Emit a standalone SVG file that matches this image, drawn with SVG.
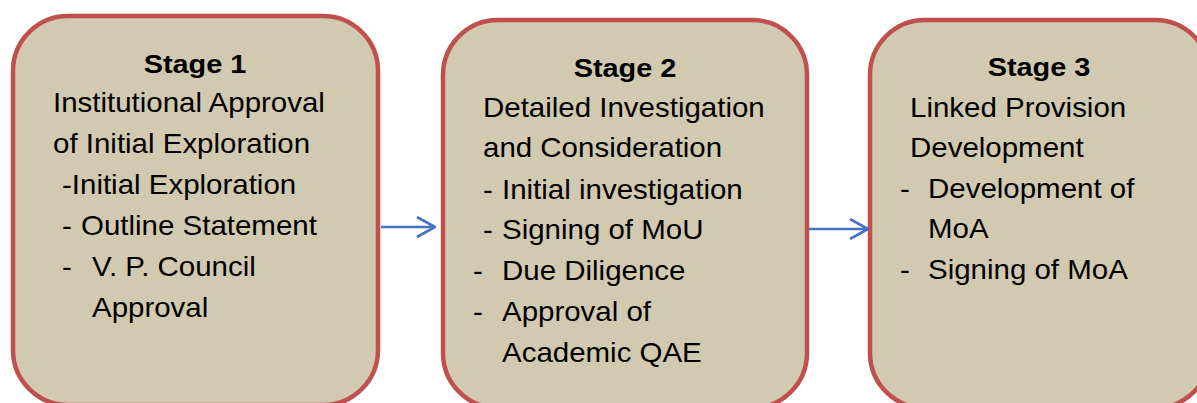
<svg xmlns="http://www.w3.org/2000/svg" width="1197" height="403" viewBox="0 0 1197 403">
<defs>
<style>
.box{fill:#D2C9B1;stroke:#C0504D;stroke-width:4.5}
.t{font-family:"Liberation Sans",Arial,sans-serif;font-size:26.8px;fill:#000}
.h{font-family:"Liberation Sans",Arial,sans-serif;font-size:26.5px;font-weight:bold;fill:#000;text-anchor:middle}
.conn{stroke:#4472C4;stroke-width:2.4;fill:none}
</style>
<marker id="arr" markerUnits="userSpaceOnUse" viewBox="0 0 20 22" refX="19" refY="11" markerWidth="20" markerHeight="22" orient="auto">
<path d="M1,1 L19,11 L1,21" fill="none" stroke="#4472C4" stroke-width="2.6"/>
</marker>
</defs>
<rect width="1197" height="403" fill="#FFFFFF"/>
<g id="stage1">
<rect class="box" x="13" y="16" width="365" height="389" rx="55" ry="55"/>
<text class="h" transform="translate(195,73) scale(1.09 1)">Stage 1</text>
<text class="t" transform="translate(53,112) scale(1.1 1)">Institutional Approval</text>
<text class="t" transform="translate(53,153) scale(1.1 1)">of Initial Exploration</text>
<text class="t" transform="translate(62,194) scale(1.1 1)">-Initial Exploration</text>
<text class="t" transform="translate(62,235) scale(1.1 1)">-</text>
<text class="t" transform="translate(81,235) scale(1.1 1)">Outline Statement</text>
<text class="t" transform="translate(62,276) scale(1.1 1)">-</text>
<text class="t" transform="translate(92,276) scale(1.1 1)">V. P. Council</text>
<text class="t" transform="translate(92,317) scale(1.1 1)">Approval</text>
</g>
<g id="stage2">
<rect class="box" x="443" y="20" width="364" height="388" rx="55" ry="55"/>
<text class="h" transform="translate(625,77) scale(1.09 1)">Stage 2</text>
<text class="t" transform="translate(483,117) scale(1.1 1)">Detailed Investigation</text>
<text class="t" transform="translate(483,157) scale(1.1 1)">and Consideration</text>
<text class="t" transform="translate(483,199) scale(1.1 1)">-</text>
<text class="t" transform="translate(502,199) scale(1.1 1)">Initial investigation</text>
<text class="t" transform="translate(483,239) scale(1.1 1)">-</text>
<text class="t" transform="translate(502,239) scale(1.1 1)">Signing of MoU</text>
<text class="t" transform="translate(473,280) scale(1.1 1)">-</text>
<text class="t" transform="translate(502,280) scale(1.1 1)">Due Diligence</text>
<text class="t" transform="translate(473,321) scale(1.1 1)">-</text>
<text class="t" transform="translate(502,321) scale(1.1 1)">Approval of</text>
<text class="t" transform="translate(502,362) scale(1.1 1)">Academic QAE</text>
</g>
<g id="stage3">
<rect class="box" x="870" y="20" width="340" height="388" rx="55" ry="55"/>
<text class="h" transform="translate(1039,76) scale(1.09 1)">Stage 3</text>
<text class="t" transform="translate(910,117) scale(1.1 1)">Linked Provision</text>
<text class="t" transform="translate(910,157) scale(1.1 1)">Development</text>
<text class="t" transform="translate(900,198) scale(1.1 1)">-</text>
<text class="t" transform="translate(928,198) scale(1.1 1)">Development of</text>
<text class="t" transform="translate(928,238) scale(1.1 1)">MoA</text>
<text class="t" transform="translate(900,279) scale(1.1 1)">-</text>
<text class="t" transform="translate(928,279) scale(1.1 1)">Signing of MoA</text>
</g>
<g id="connectors">
<line class="conn" x1="381" y1="227" x2="435" y2="227" marker-end="url(#arr)"/>
<line class="conn" x1="809" y1="229" x2="868" y2="229" marker-end="url(#arr)"/>
</g>
</svg>
